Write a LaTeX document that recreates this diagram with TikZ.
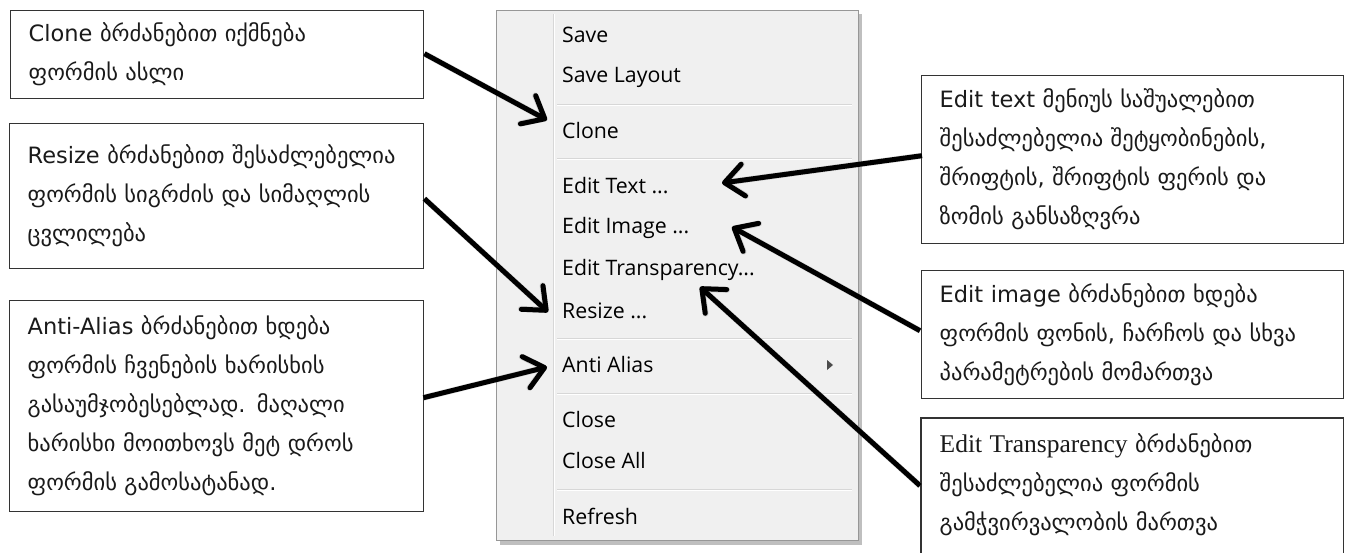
\documentclass[tikz,border=0pt]{standalone}
\usepackage{fontspec}
\setmainfont{DejaVu Sans}
\newfontfamily\menufont{Open Sans}
\newfontfamily\romanlat{Liberation Serif}
\usetikzlibrary{arrows.meta}
\definecolor{menubg}{HTML}{F0F0F0}
\definecolor{menuborder}{HTML}{979797}
\definecolor{menusep}{HTML}{D7D7D7}
\definecolor{boxline}{HTML}{333333}
\definecolor{txt}{HTML}{1A1A1A}
\tikzset{
  infobox/.style={draw=boxline, line width=1.4pt, fill=white, anchor=north west,
    align=left, inner xsep=18pt, inner ysep=0pt, text=txt,
    font=\fontsize{22.5}{39}\selectfont},
  menuitem/.style={anchor=west, inner sep=0pt, text=black,
    font=\menufont\fontsize{21.3}{24}\selectfont},
  callout/.style={line width=5pt, line join=round, -{Straight Barb[length=19pt,width=32pt,round]}, black},
  calloutshadow/.style={line width=6pt, -{Straight Barb[length=19pt,width=32pt,round]}, black!45, opacity=0.3},
  sepline/.style={menusep, line width=1pt},
}
\begin{document}
\begin{tikzpicture}[x=1pt,y=-1pt]
\useasboundingbox (0,0) rectangle (1346,552);
\clip (0,0) rectangle (1346,552);
% menu
\fill[black!25] (500,14) rectangle (862,545);
\filldraw[fill=menubg, draw=menuborder, line width=1pt] (496,10) rectangle (858,540);
\draw[menusep, line width=1pt] (553,14) -- (553,536);
\draw[white, line width=1pt] (554.2,14) -- (554.2,536);
\foreach \yy in {104,158,338,393,489}{
  \draw[sepline] (557,\yy) -- (852,\yy);
  \draw[white, line width=1pt] (557,\yy+1.2) -- (852,\yy+1.2);
}
\node[menuitem] (mSave) at (562,35) {Save};
\node[menuitem] (mSaveLayout) at (562,77) {Save Layout};
\node[menuitem] (mClone) at (562,131) {Clone};
\node[menuitem] (mEditText) at (562,186) {Edit Text ...};
\node[menuitem] (mEditImage) at (562,228) {Edit Image ...};
\node[menuitem] (mEditTrans) at (562,270) {Edit Transparency...};
\node[menuitem] (mResize) at (562,311) {Resize ...};
\node[menuitem] (mAnti) at (562,365) {Anti Alias};
\node[menuitem] (mClose) at (562,420) {Close};
\node[menuitem] (mCloseAll) at (562,461) {Close All};
\node[menuitem] (mRefresh) at (562,516) {Refresh};
\fill[black!70] (827,360) -- (833,365) -- (827,370) -- cycle;
% boxes
\node[infobox, text width=377pt, minimum height=88pt] (b1) at (10,10)
  {Clone  ბრძანებით  იქმნება\\ფორმის ასლი};
\node[infobox, text width=378pt, minimum height=145pt] (b2) at (9,123)
  {Resize ბრძანებით შესაძლებელია\\ფორმის სიგრძის და სიმაღლის\\ცვლილება};
\node[infobox, text width=378pt, minimum height=211pt] (b3) at (9,300)
  {Anti-Alias ბრძანებით ხდება\\ფორმის ჩვენების ხარისხის\\გასაუმჯობესებლად. მაღალი\\ხარისხი მოითხოვს მეტ დროს\\ფორმის გამოსატანად.};
\node[infobox, text width=386pt, minimum height=168pt] (b4) at (921,75)
  {Edit text მენიუს საშუალებით\\შესაძლებელია  შეტყობინების,\\შრიფტის, შრიფტის ფერის და\\ზომის განსაზღვრა};
\node[infobox, text width=386pt, minimum height=128pt] (b5) at (921,270)
  {Edit image ბრძანებით ხდება\\ფორმის ფონის, ჩარჩოს და სხვა\\პარამეტრების მომართვა};
\node[infobox, draw=none, text width=385pt, minimum height=132pt] (b6) at (921,418)
  {{\romanlat\fontsize{25.5}{39}\selectfont Edit Transparency} ბრძანებით\\შესაძლებელია  ფორმის\\გამჭვირვალობის  მართვა};
\draw[boxline, line width=1.4pt] ([yshift=-20pt]b6.south west) -- (b6.north west) -- (b6.north east) -- ([yshift=-20pt]b6.south east);
% arrows (shadows)
\begin{scope}[shift={(2,3)}]
\draw[calloutshadow] ([yshift=1pt]b1.east) -- ([shift={(-15,-11)}]mClone.west);
\draw[calloutshadow] ([yshift=-2.5pt]b2.east) -- ([shift={(-14,1)}]mResize.west);
\draw[calloutshadow] ([shift={(-1,-8.5)}]b3.east) -- ([shift={(-15,2)}]mAnti.west);
\draw[calloutshadow] ([shift={(1,-4)}]b4.west) -- ([shift={(160,-3)}]mEditText.west);
\draw[calloutshadow] ([shift={(-1,-4)}]b5.west) -- ([shift={(170,-1)}]mEditImage.west);
\draw[calloutshadow] ([shift={(-1,1)}]b6.west) -- ([shift={(138,17)}]mEditTrans.west);
\end{scope}
% arrows
\draw[callout] ([yshift=1pt]b1.east) -- ([shift={(-15,-11)}]mClone.west);
\draw[callout] ([yshift=-2.5pt]b2.east) -- ([shift={(-14,1)}]mResize.west);
\draw[callout] ([shift={(-1,-8.5)}]b3.east) -- ([shift={(-15,2)}]mAnti.west);
\draw[callout] ([shift={(1,-4)}]b4.west) -- ([shift={(160,-3)}]mEditText.west);
\draw[callout] ([shift={(-1,-4)}]b5.west) -- ([shift={(170,-1)}]mEditImage.west);
\draw[callout] ([shift={(-1,1)}]b6.west) -- ([shift={(138,17)}]mEditTrans.west);
\end{tikzpicture}
\end{document}
